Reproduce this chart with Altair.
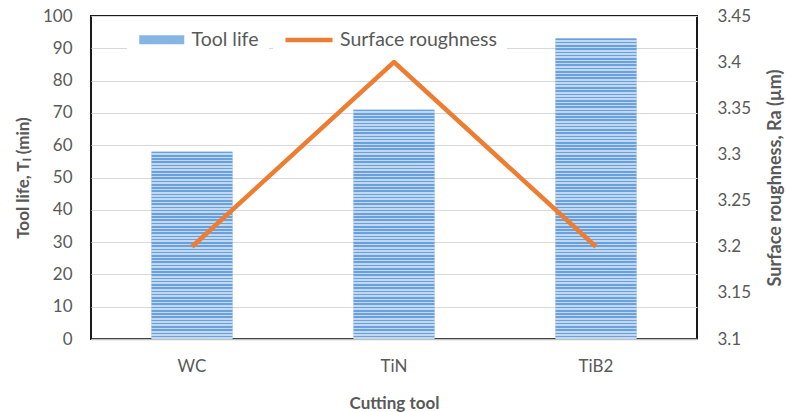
import altair as alt
import pandas as pd

# Cutting tools compared
tools = ["WC", "TiN", "TiB2"]
# Tool life, T_L (min)
tool_life = [58, 71, 93]
# Surface roughness, Ra (µm)
roughness = [3.2, 3.4, 3.2]

left_ticks = [0, 10, 20, 30, 40, 50, 60, 70, 80, 90, 100]
right_ticks = [3.1, 3.15, 3.2, 3.25, 3.3, 3.35, 3.4, 3.45]

df = pd.DataFrame({"tool": tools, "life": tool_life, "ra": roughness})

FONT = "Lato"
TXT = "#595959"
BLUE_DARK = "#6aa1dc"
BLUE_LIGHT = "#c0d8f2"
ORANGE = "#ed7d31"


def stripes(n):
    """Horizontal stripe fill made from a vertical linear gradient."""
    stops = []
    for i in range(n):
        a, m, b = i / n, (i + 0.5) / n, (i + 1) / n
        stops += [
            alt.GradientStop(offset=a, color=BLUE_DARK),
            alt.GradientStop(offset=m, color=BLUE_DARK),
            alt.GradientStop(offset=m, color=BLUE_LIGHT),
            alt.GradientStop(offset=b, color=BLUE_LIGHT),
        ]
    return alt.Gradient(gradient="linear", x1=0, x2=0, y1=0, y2=1, stops=stops)


x_enc = alt.X(
    "tool:N",
    sort=tools,
    scale=alt.Scale(paddingInner=0.6, paddingOuter=0.3),
    axis=alt.Axis(
        title="Cutting tool",
        labelAngle=0,
        ticks=False,
        labelPadding=19,
        titlePadding=21,
        titleFontSize=17,
        domainColor="#bfbfbf",
        domainWidth=1.5,
    ),
)

y_scale = alt.Scale(domain=[0, 100], nice=False)
left_axis = alt.Axis(
    title="Tool life, Tₗ (min)",
    values=left_ticks,
    ticks=False,
    domain=False,
    labelPadding=19,
    titlePadding=10,
    titleFontSize=17,
    gridColor="#d9d9d9",
    gridWidth=1.2,
)

base_bars = (
    alt.Chart(df)
    .transform_calculate(series="'Tool life'")
    .mark_bar()
    .encode(
        x=x_enc,
        y=alt.Y("life:Q", scale=y_scale, axis=left_axis),
        fill=alt.Fill(
            "series:N",
            title=None,
            scale=alt.Scale(domain=["Tool life"], range=["#86b4e6"]),
            legend=alt.Legend(
                orient="none",
                legendX=36,
                legendY=4,
                padding=10,
                fillColor="white",
                symbolType="M-1,-0.6H5V0.6H-1Z",
                symbolSize=225,
                symbolStrokeWidth=0,
                labelFontSize=19.5,
                labelColor=TXT,
                labelFont=FONT,
                labelOffset=35,
            ),
        ),
    )
)

stripe_layers = [
    alt.Chart(df)
    .transform_filter(alt.datum.tool == t)
    .mark_bar(fill=stripes(v))
    .encode(x=x_enc, y=alt.Y("life:Q", scale=y_scale, axis=left_axis))
    for t, v in zip(tools, tool_life)
]

bars = alt.layer(base_bars, *stripe_layers)

line = (
    alt.Chart(df)
    .transform_calculate(series="'Surface roughness'")
    .mark_line(strokeWidth=4.5)
    .encode(
        x=x_enc,
        y=alt.Y(
            "ra:Q",
            scale=alt.Scale(domain=[3.1, 3.45], nice=False, zero=False),
            axis=alt.Axis(
                orient="right",
                title="Surface roughness, Ra (µm)",
                values=right_ticks,
                format=".2~f",
                ticks=False,
                domain=False,
                grid=False,
                labelPadding=20,
                titlePadding=34,
                titleAngle=270,
                titleFontSize=18,
            ),
        ),
        stroke=alt.Stroke(
            "series:N",
            title=None,
            scale=alt.Scale(domain=["Surface roughness"], range=[ORANGE]),
            legend=alt.Legend(
                orient="none",
                legendX=182,
                legendY=4,
                padding=10,
                fillColor="white",
                symbolType="M-1,0H5.27",
                symbolSize=225,
                symbolStrokeWidth=4.5,
                labelFontSize=19.5,
                labelColor=TXT,
                labelFont=FONT,
                labelOffset=37,
            ),
        ),
    )
)

chart = (
    alt.layer(bars, line)
    .resolve_scale(y="independent")
    .properties(
        width=606,
        height=323,
        autosize=alt.AutoSizeParams(type="none"),
        padding={"left": 91, "top": 16, "right": 89, "bottom": 73},
        background="white",
    )
    .configure_view(stroke="#1a1a1a", strokeWidth=2)
    .configure_axis(
        labelFont=FONT,
        labelFontSize=17,
        labelColor=TXT,
        titleFont=FONT,
        titleFontWeight="bold",
        titleColor=TXT,
    )
)

chart.save("out.html", embed_options={"renderer": "svg", "actions": False})
